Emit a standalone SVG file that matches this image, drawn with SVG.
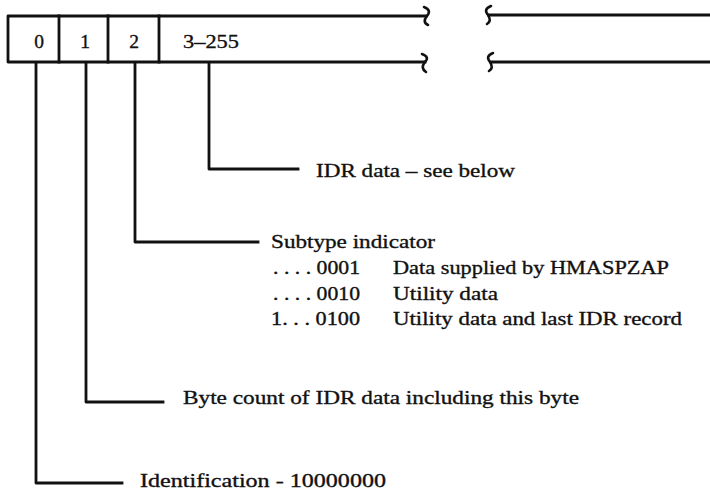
<svg xmlns="http://www.w3.org/2000/svg" width="710" height="492" viewBox="0 0 710 492">
<style>
  .ln { fill: none; stroke: #111; stroke-width: 2.8; stroke-linecap: square; stroke-linejoin: round; }
  .sq { fill: none; stroke: #111; stroke-width: 2.6; stroke-linecap: round; }
  text { font-family: "Liberation Serif", "Times New Roman", serif; font-size: 19.5px; fill: #111; stroke: #111; stroke-width: 0.35; }
</style>
<rect width="710" height="492" fill="#fff"/>
<g id="record">
  <path class="ln" d="M426,16 H8 V62 H425"/>
  <path class="ln" d="M59,16 V62 M108,16 V62 M159,16 V62"/>
  <path class="sq" d="M424,7 Q432,10 427,16 Q422,22 428,25"/>
  <path class="sq" d="M422,54 Q430,57 425,62 Q420,68 426,72"/>
  <path class="ln" d="M489,15 H709"/>
  <path class="ln" d="M491,62 H709"/>
  <path class="sq" d="M491,6 Q483,9 488,15 Q492,21 487,24"/>
  <path class="sq" d="M493,53 Q485,56 490,62 Q494,68 489,71"/>
  <text x="39" y="48" text-anchor="middle">0</text>
  <text x="85" y="48" text-anchor="middle">1</text>
  <text x="134" y="48" text-anchor="middle">2</text>
  <text x="183" y="48" textLength="56" lengthAdjust="spacingAndGlyphs">3–255</text>
</g>
<g id="connectors">
  <path class="ln" d="M209,63 V169 H298"/>
  <path class="ln" d="M135,63 V242 H258"/>
  <path class="ln" d="M86,63 V402 H163"/>
  <path class="ln" d="M36,63 V483 H122"/>
</g>
<g id="label-idr">
  <text x="316" y="177" textLength="199" lengthAdjust="spacingAndGlyphs">IDR data – see below</text>
</g>
<g id="label-subtype">
  <text x="271" y="248" textLength="164" lengthAdjust="spacingAndGlyphs">Subtype indicator</text>
  <text x="273" y="274" textLength="87" lengthAdjust="spacingAndGlyphs">. . . . 0001</text>
  <text x="393" y="274" textLength="276" lengthAdjust="spacingAndGlyphs">Data supplied by HMASPZAP</text>
  <text x="273" y="299.5" textLength="87" lengthAdjust="spacingAndGlyphs">. . . . 0010</text>
  <text x="393" y="299.5" textLength="105" lengthAdjust="spacingAndGlyphs">Utility data</text>
  <text x="271" y="325" textLength="89" lengthAdjust="spacingAndGlyphs">1. . . 0100</text>
  <text x="393" y="325" textLength="289" lengthAdjust="spacingAndGlyphs">Utility data and last IDR record</text>
</g>
<g id="label-bytecount">
  <text x="183" y="404" textLength="396" lengthAdjust="spacingAndGlyphs">Byte count of IDR data including this byte</text>
</g>
<g id="label-identification">
  <text x="140" y="487" textLength="246" lengthAdjust="spacingAndGlyphs">Identification -  10000000</text>
</g>
</svg>
